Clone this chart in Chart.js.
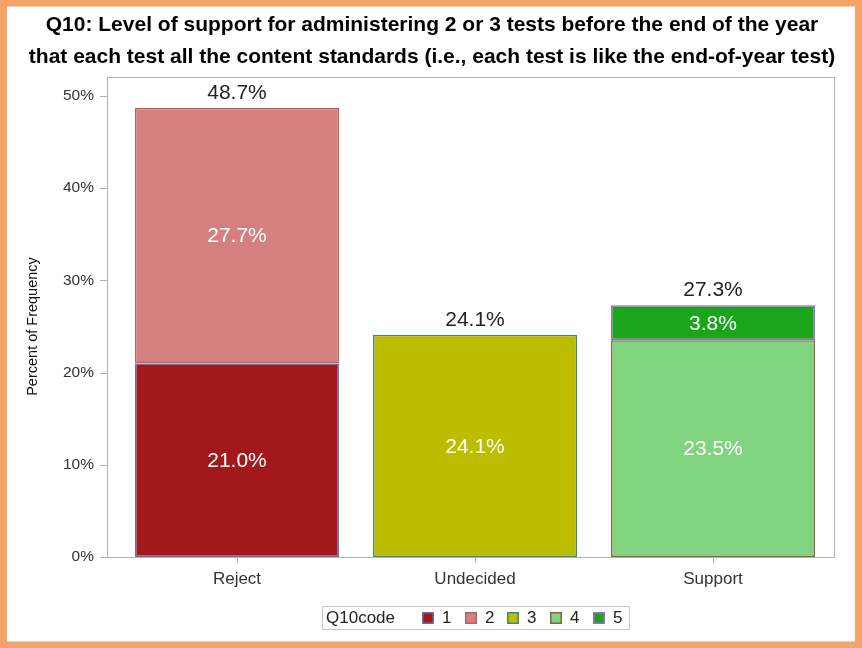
<!DOCTYPE html>
<html>
<head>
<meta charset="utf-8">
<script src="https://cdn.jsdelivr.net/npm/chart.js@4.4.0/dist/chart.umd.min.js"></script>
<style>
  html, body { margin: 0; padding: 0; background: #fff; }
  #wrap { width: 862px; height: 648px; }
</style>
</head>
<body>
<div id="wrap"><canvas id="c" width="862" height="648"></canvas></div>
<script>
// data
const categories = ['Reject', 'Undecided', 'Support'];
const codeLabels = ['1', '2', '3', '4', '5'];
const code1 = [21.0, null, null];
const code2 = [27.7, null, null];
const code3 = [null, 24.1, null];
const code4 = [null, null, 23.5];
const code5 = [null, null, 3.8];
const yTicks = [0, 10, 20, 30, 40, 50];
const titleLines = [
  'Q10: Level of support for administering 2 or 3 tests before the end of the year',
  'that each test all the content standards (i.e., each test is like the end-of-year test)'
];

const fills = ['#A3191B', '#D58080', '#BDBD00', '#80D480', '#1AA51A'];
const borders = ['#6C6CA8', '#BC5E5E', '#3E8C6C', '#7A6B3A', '#A066D8'];
const FONT = '"Liberation Sans", Arial, sans-serif';

const series = [code1, code2, code3, code4, code5];

const decor = {
  id: 'decor',
  beforeDraw(chart) {
    const ctx = chart.ctx;
    ctx.save();
    ctx.fillStyle = '#fff';
    ctx.fillRect(0, 0, chart.width, chart.height);
    ctx.restore();
  },
  beforeDatasetsDraw(chart) {
    const ctx = chart.ctx;
    const a = chart.chartArea;
    const ys = chart.scales.y, xs = chart.scales.x;
    const top = ys.getPixelForValue(50) - 19;
    ctx.save();
    ctx.strokeStyle = '#AEB3B8';
    ctx.lineWidth = 1;
    ctx.strokeRect(a.left - 10.5, top + 0.5, a.right - a.left + 13, a.bottom - top);
    ctx.beginPath();
    yTicks.forEach(v => {
      const y = Math.round(ys.getPixelForValue(v)) + 0.5;
      ctx.moveTo(a.left - 18, y);
      ctx.lineTo(a.left - 10, y);
    });
    categories.forEach((c, i) => {
      const x = Math.round(xs.getPixelForValue(i)) + 0.5;
      ctx.moveTo(x, a.bottom);
      ctx.lineTo(x, a.bottom + 6);
    });
    ctx.stroke();
    ctx.restore();
  },
  afterDatasetsDraw(chart) {
    const ctx = chart.ctx;
    const ys = chart.scales.y;
    ctx.save();
    ctx.font = '21px ' + FONT;
    ctx.textAlign = 'center';
    ctx.textBaseline = 'middle';
    ctx.fillStyle = '#fff';
    series.forEach((vals, i) => {
      const meta = chart.getDatasetMeta(i);
      vals.forEach((v, j) => {
        if (v == null) return;
        const el = meta.data[j];
        ctx.fillText(v.toFixed(1) + '%', el.x, (el.y + el.base) / 2 + 1);
      });
    });
    ctx.fillStyle = '#222';
    categories.forEach((c, j) => {
      let sum = 0;
      series.forEach(vals => { if (vals[j] != null) sum += vals[j]; });
      const x = chart.scales.x.getPixelForValue(j);
      ctx.fillText(sum.toFixed(1) + '%', x, ys.getPixelForValue(sum) - 15);
    });
    ctx.restore();
  },
  afterDraw(chart) {
    const ctx = chart.ctx;
    ctx.save();
    // title
    ctx.fillStyle = '#000';
    ctx.font = 'bold 21px ' + FONT;
    ctx.textAlign = 'center';
    ctx.textBaseline = 'middle';
    ctx.fillText(titleLines[0], 432, 25);
    ctx.fillText(titleLines[1], 432, 57);
    // legend
    ctx.strokeStyle = '#C8C8C8';
    ctx.lineWidth = 1;
    ctx.strokeRect(322.5, 606.5, 307, 23);
    ctx.textAlign = 'left';
    ctx.fillStyle = '#222';
    ctx.font = '17px ' + FONT;
    ctx.fillText('Q10code', 326, 618);
    const xs = [422, 465, 507, 550, 593];
    codeLabels.forEach((l, i) => {
      ctx.fillStyle = fills[i];
      ctx.fillRect(xs[i], 612, 12, 12);
      ctx.strokeStyle = borders[i];
      ctx.lineWidth = 1.5;
      ctx.strokeRect(xs[i] + 0.75, 612.75, 10.5, 10.5);
      ctx.fillStyle = '#222';
      ctx.fillText(l, xs[i] + 20, 618);
    });
    // orange frame
    ctx.strokeStyle = '#F4A36A';
    ctx.lineWidth = 7;
    ctx.strokeRect(3.5, 3, chart.width - 7, chart.height - 6);
    ctx.restore();
  }
};

new Chart(document.getElementById('c'), {
  type: 'bar',
  data: {
    labels: categories,
    datasets: series.map((vals, i) => ({
      label: codeLabels[i],
      data: vals,
      backgroundColor: fills[i],
      borderColor: borders[i],
      borderWidth: 1.5,
      borderSkipped: false,
      barPercentage: 0.857,
      categoryPercentage: 1
    }))
  },
  options: {
    responsive: false,
    animation: false,
    devicePixelRatio: 1,
    layout: { padding: { top: 96, right: 30, bottom: 51, left: 0 } },
    plugins: {
      legend: { display: false },
      tooltip: { enabled: false },
      title: { display: false }
    },
    scales: {
      x: {
        stacked: true,
        grid: { display: false, drawTicks: false },
        border: { display: false },
        ticks: { color: '#333', font: { size: 17, family: FONT }, padding: 12 },
        afterFit: s => { s.height = 40; }
      },
      y: {
        stacked: true,
        min: 0,
        max: 50,
        grid: { display: false, drawTicks: false },
        border: { display: false },
        ticks: {
          stepSize: 10,
          color: '#333',
          font: { size: 15.5, family: FONT },
          padding: 24,
          callback: v => v + '%'
        },
        title: {
          display: true,
          text: 'Percent of Frequency',
          color: '#111',
          font: { size: 14.5, family: FONT },
          padding: { top: 24, bottom: 0 }
        },
        afterFit: s => { s.width = 118; }
      }
    }
  },
  plugins: [decor]
});
</script>
</body>
</html>
